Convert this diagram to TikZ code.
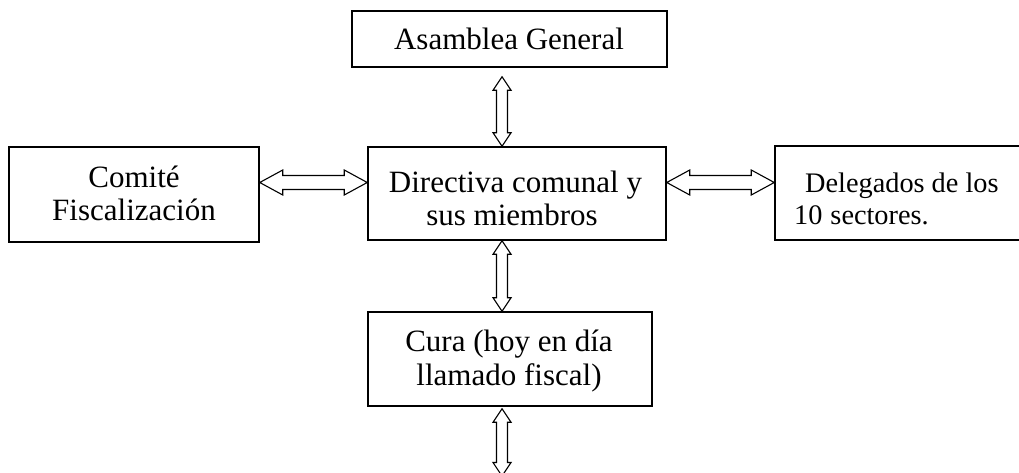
\documentclass[tikz,border=0pt]{standalone}
\usepackage{fontspec}
\setmainfont{Liberation Serif}
\usetikzlibrary{calc}
\begin{document}
\begin{tikzpicture}[x=1pt,y=-1pt,
  box/.style={draw, line width=1.5pt, inner sep=0pt},
  txt/.style={inner sep=0pt, anchor=base, font=\fontsize{31}{33}\selectfont},
  txtd/.style={inner sep=0pt, anchor=base west, font=\fontsize{28.3}{31}\selectfont},
  harrow/.style={draw, line width=1.1pt, line join=miter,
    to path={let \p1=(\tikztostart), \p2=(\tikztotarget) in
      (\p1) -- (\x1+23pt,\y1+12.5pt) -- (\x1+23pt,\y1+7pt) -- (\x2-23pt,\y1+7pt)
      -- (\x2-23pt,\y1+12.5pt) -- (\x2,\y1) -- (\x2-23pt,\y1-12.5pt)
      -- (\x2-23pt,\y1-7pt) -- (\x1+23pt,\y1-7pt) -- (\x1+23pt,\y1-12.5pt) -- cycle}},
  varrow/.style={draw, line width=1.1pt, line join=miter,
    to path={let \p1=(\tikztostart), \p2=(\tikztotarget) in
      (\p1) -- (\x1+9pt,\y1-13.5pt) -- (\x1+5.5pt,\y1-13.5pt) -- (\x1+5.5pt,\y2+13.5pt)
      -- (\x1+9pt,\y2+13.5pt) -- (\x1,\y2) -- (\x1-9pt,\y2+13.5pt)
      -- (\x1-5.5pt,\y2+13.5pt) -- (\x1-5.5pt,\y1-13.5pt) -- (\x1-9pt,\y1-13.5pt) -- cycle}}]
\useasboundingbox (0,0) rectangle (1019,473);
\clip (0,0) rectangle (1019,473);

% boxes
\node[box, minimum width=315pt, minimum height=56pt] (asam) at (509.5,39) {};
\node[box, minimum width=298pt, minimum height=93pt] (dir) at (517,193.5) {};
\node[box, minimum width=250pt, minimum height=95pt] (com) at (134,194.5) {};
\node[box, minimum width=250pt, minimum height=94pt] (del) at (900,193) {};
\node[box, minimum width=284pt, minimum height=94pt] (cura) at (510,359) {};

% texts
\node[txt] (asamT) at (509,50) {Asamblea General};
\node[txt] (comT1) at (134,187) {Comité};
\node[txt] (comT2) at (134,220) {Fiscalización};
\node[txt] (dirT1) at (515.5,192.7) {Directiva comunal y};
\node[txt] (dirT2) at (512,225) {sus miembros};
\node[txtd] (delT1) at (805,193) {Delegados de los};
\node[txtd] (delT2) at (794,224) {10\hspace{8pt}sectores.};
\node[txt] (curT1) at (509,351.7) {Cura (hoy en día};
\node[txt] (curT2) at (509,385) {llamado fiscal)};

% connector coordinates
\coordinate (vx) at (502,0);
\coordinate (hy) at (0,182.5);
\coordinate (l1) at (com.east |- hy);
\coordinate (l2) at (dir.west |- hy);
\coordinate (r1) at (dir.east |- hy);
\coordinate (r2) at (del.west |- hy);
\coordinate (t1) at ($(asam.south -| vx)+(0,9)$);
\coordinate (t2) at (dir.north -| vx);
\coordinate (m1) at (dir.south -| vx);
\coordinate (m2) at (cura.north -| vx);
\coordinate (b1) at ($(cura.south -| vx)+(0,2)$);
\coordinate (b2) at (502,476);

% connectors
\draw[harrow] (l1) to (l2);
\draw[harrow] (r1) to (r2);
\draw[varrow] (t1) to (t2);
\draw[varrow] (m1) to (m2);
\draw[varrow] (b1) to (b2);
\end{tikzpicture}
\end{document}
